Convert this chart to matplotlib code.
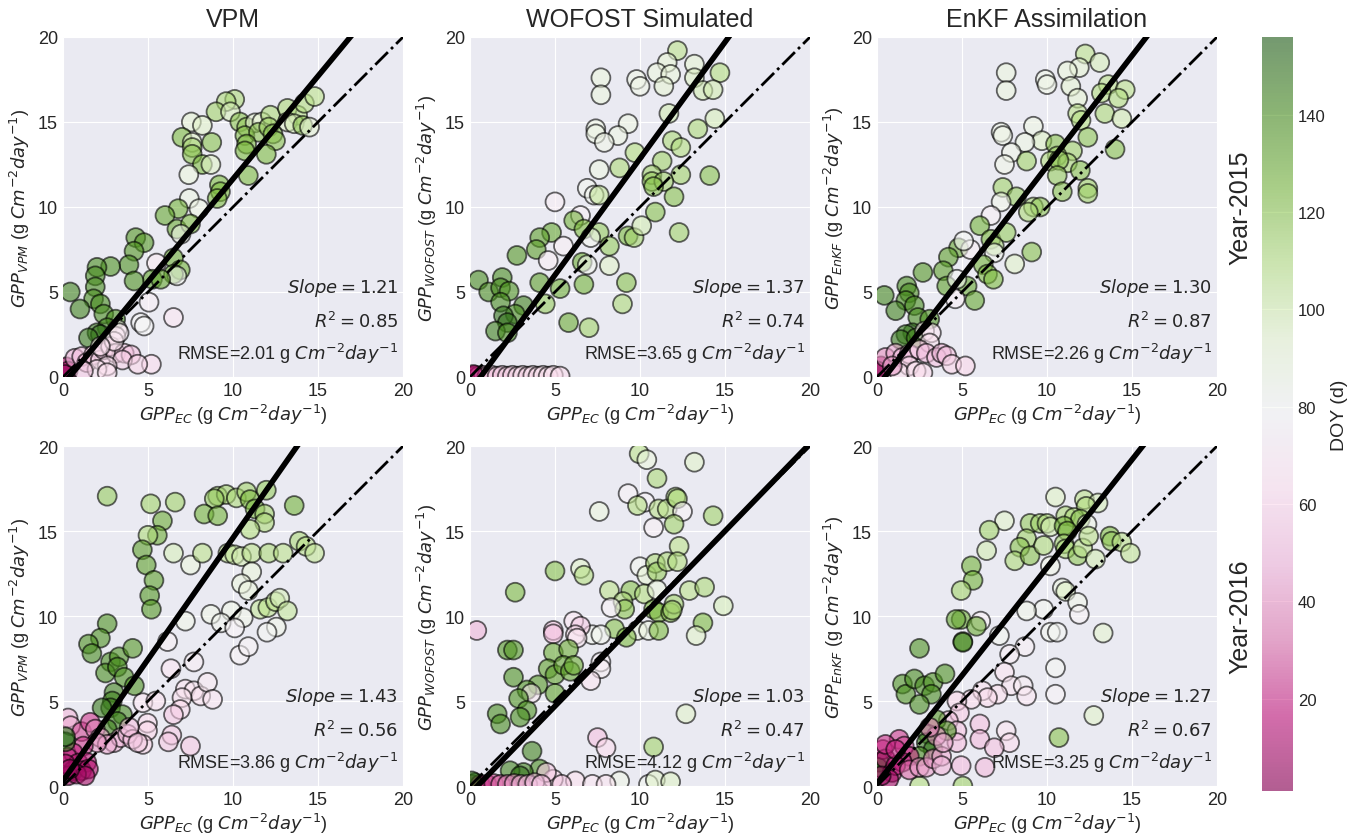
import numpy as np
import matplotlib
matplotlib.use("Agg")
import matplotlib.pyplot as plt

# ---- data (GPP_EC on x, model GPP on y, colour = DOY) ----
vpm15_x = [10.1, 9.6, 9.0, 9.85, 7.55, 8.2, 7.0, 7.6, 7.6, 7.6,
           8.75, 8.2, 8.7, 7.4, 9.2, 9.26, 9.07, 7.43, 8.0, 6.78,
           6.0, 6.7, 7.5, 6.94, 6.5, 6.9, 6.5, 6.7, 5.5, 5.26,
           5.75, 5.06, 4.57, 4.77, 6.5, 4.28, 4.77, 4.18, 3.88, 4.18,
           2.8, 2.0, 1.9, 1.9, 0.43, 1.8, 2.2, 1.0, 2.4, 3.1,
           2.6, 2.0, 2.2, 1.5, 3.2, 3.1,
           10.4, 10.8, 11.3, 11.7, 12.2, 10.7, 11.5, 12.1, 12.35, 12.5,
           10.8, 10.7, 11.96, 10.9, 13.2, 13.8, 13.2, 13.6, 14.2, 14.8,
           14.1, 14.5,
           0.2, 0.3, 0.1, 0.7, 1.1, 1.4, 1.8, 2.2, 2.4, 2.8,
           3.1, 3.6, 4.0, 3.5, 5.2, 4.4, 2.6, 2.0, 2.6, 1.2,
           3.0, 3.3, 2.2]
vpm15_y = [16.33, 16.2, 15.6, 15.6, 15.0, 14.8, 14.1, 13.8, 13.5, 13.1,
           13.8, 12.5, 12.5, 11.9, 11.3, 10.9, 10.5, 10.5, 9.9, 9.9,
           9.5, 8.7, 9.0, 8.4, 7.0, 6.3, 6.05, 5.95, 6.7, 5.75,
           5.75, 4.4, 3.2, 3.0, 3.5, 8.2, 7.9, 7.4, 6.6, 5.65,
           6.5, 6.45, 5.95, 5.3, 5.0, 4.6, 4.3, 4.0, 3.7, 3.4,
           2.9, 2.6, 2.5, 2.3, 2.8, 2.4,
           15.0, 14.7, 14.95, 15.0, 15.4, 14.2, 14.4, 14.7, 14.3, 13.9,
           13.7, 13.3, 13.1, 11.85, 15.8, 15.4, 15.0, 14.9, 16.1, 16.5,
           14.8, 14.7,
           0.6, 0.35, 0.15, 1.1, 1.2, 0.85, 1.3, 1.0, 1.6, 1.8,
           1.4, 1.4, 1.3, 1.0, 0.75, 0.75, 0.65, 0.45, 0.25, 0.35,
           2.1, 2.6, 1.8]
vpm15_doy = [112, 112, 115, 98, 92, 95, 125, 95, 115, 122,
             122, 125, 95, 88, 125, 125, 125, 86, 86, 128,
             132, 130, 125, 85, 130, 128, 130, 82, 70, 135,
             132, 72, 78, 78, 68, 138, 138, 138, 140, 140,
             140, 142, 142, 142, 145, 142, 142, 145, 142, 140,
             143, 148, 150, 148, 72, 68,
             122, 118, 92, 92, 112, 122, 122, 115, 122, 122,
             125, 125, 125, 125, 112, 110, 95, 100, 110, 108,
             120, 92,
             10, 8, 5, 48, 52, 50, 55, 58, 56, 60,
             58, 55, 52, 58, 62, 60, 64, 66, 64, 56,
             68, 70, 66]

wof15_x = [12.2, 11.6, 11.0, 11.8, 13.2, 14.7, 13.2, 7.7, 7.7, 9.8,
           10.0, 11.4, 13.7, 14.3, 11.7, 14.4, 13.4, 9.3, 7.4, 7.4,
           8.7, 7.9, 11.9, 12.4, 9.7, 11.3, 8.8, 7.6, 10.7, 12.4,
           10.7, 11.4, 14.1, 6.9, 7.3, 7.6, 10.8, 12.0, 5.0, 6.5,
           6.1, 6.7, 7.6, 7.1, 4.8, 4.1, 3.9, 5.5, 4.6, 2.76,
           8.2, 9.3, 9.65, 10.1, 10.9, 12.3, 6.6, 6.9, 8.2, 6.7,
           9.2, 8.97, 5.3, 4.1, 4.43, 1.9, 0.5, 1.1, 1.8, 2.3,
           1.8, 3.15, 2.66, 1.97, 2.2, 1.5, 2.2, 5.8, 7.0,
           0.1, 0.3, 0.5, 0.8, 1.0, 1.3, 1.6, 1.9, 2.2, 2.5,
           2.8, 3.1, 3.4, 3.7, 4.0, 4.3, 4.6, 4.9, 5.3, 0.2]
wof15_y = [19.2, 18.5, 17.9, 17.8, 18.4, 17.9, 17.6, 17.6, 16.6, 17.5,
           17.1, 17.1, 16.85, 16.9, 15.5, 15.2, 14.6, 14.9, 14.6, 14.3,
           14.2, 13.8, 13.9, 13.5, 13.2, 12.7, 12.3, 12.2, 11.9, 11.9,
           11.5, 11.5, 11.85, 11.1, 10.7, 10.7, 11.2, 10.6, 10.3, 9.5,
           9.2, 8.7, 8.5, 8.2, 8.5, 8.2, 7.5, 7.7, 6.85, 7.15,
           7.7, 8.3, 8.2, 8.9, 9.7, 8.5, 6.75, 6.6, 6.55, 5.45,
           5.55, 4.3, 5.2, 5.55, 4.3, 5.85, 5.7, 5.0, 5.25, 5.05,
           4.4, 4.2, 3.7, 3.6, 3.2, 2.7, 2.6, 3.2, 2.9,
           0.05, 0.1, 0.05, 0.1, 0.05, 0.1, 0.05, 0.1, 0.05, 0.1,
           0.05, 0.1, 0.05, 0.1, 0.05, 0.1, 0.05, 0.1, 0.05, 0.15]
wof15_doy = [108, 92, 88, 90, 92, 110, 96, 88, 88, 85,
             85, 92, 100, 100, 100, 98, 112, 86, 86, 86,
             86, 84, 112, 110, 110, 115, 112, 86, 115, 115,
             118, 115, 122, 82, 82, 105, 122, 122, 72, 74,
             128, 125, 118, 82, 132, 135, 135, 74, 72, 138,
             118, 125, 115, 100, 122, 115, 130, 82, 95, 128,
             122, 112, 130, 135, 118, 142, 142, 142, 142, 140,
             142, 145, 142, 150, 150, 146, 142, 130, 115,
             10, 20, 35, 45, 50, 55, 58, 55, 60, 58,
             62, 64, 60, 65, 62, 66, 64, 65, 62, 15]

enkf15_x = [12.25, 13.1, 11.9, 11.2, 7.6, 7.6, 9.9, 10.0, 11.4, 11.8,
            13.6, 13.2, 14.6, 14.2, 11.8, 12.0, 13.4, 14.4, 7.3, 7.4,
            9.2, 9.7, 8.7, 7.9, 7.5, 10.5, 12.4, 11.5, 10.6, 10.2,
            11.2, 8.8, 10.7, 14.0, 11.96, 10.6, 12.4, 12.4, 10.9, 7.4,
            8.2, 7.3, 9.2, 9.6, 8.9, 6.7, 6.05, 6.7, 7.6, 6.9,
            6.9, 4.8, 5.5, 5.1, 4.2, 2.7, 3.9, 4.1, 6.25, 6.5,
            6.85, 9.1, 8.1, 5.3, 4.7, 4.6, 5.75, 1.75, 0.43, 1.9,
            1.7, 2.2, 1.1, 2.4, 3.1, 2.1, 1.7, 1.4, 2.3, 2.8,
            3.2, 3.1,
            0.24, 0.05, 0.5, 1.1, 1.5, 1.9, 2.5, 2.9, 3.5, 3.8,
            4.1, 4.4, 5.2, 1.9, 1.3, 2.3, 2.7, 0.9]
enkf15_y = [19.0, 18.5, 18.2, 18.0, 17.9, 16.85, 17.5, 17.2, 17.1, 16.4,
            17.2, 16.7, 16.9, 16.4, 15.5, 15.1, 15.5, 15.2, 14.4, 14.2,
            14.75, 13.9, 13.8, 13.2, 12.5, 13.7, 14.1, 13.3, 13.0, 12.7,
            12.6, 12.7, 12.75, 13.4, 12.15, 11.85, 11.1, 10.8, 10.9, 11.15,
            10.6, 10.3, 10.0, 10.0, 9.7, 9.5, 8.9, 8.1, 8.5, 7.7,
            7.3, 7.6, 7.5, 8.0, 7.05, 6.15, 6.25, 5.35, 6.6, 6.05,
            5.75, 7.35, 6.65, 5.35, 5.75, 4.6, 4.5, 5.35, 4.8, 4.95,
            4.5, 4.2, 3.9, 3.5, 3.4, 2.6, 2.5, 2.2, 2.3, 2.7,
            2.6, 2.0,
            0.65, 0.35, 1.15, 1.4, 1.15, 1.35, 1.6, 1.4, 1.15, 1.4,
            1.25, 0.75, 0.65, 0.65, 0.25, 0.35, 0.25, 0.65]
enkf15_doy = [108, 98, 92, 90, 88, 88, 85, 85, 92, 92,
              108, 110, 108, 110, 108, 110, 112, 100, 85, 85,
              86, 96, 86, 84, 84, 122, 120, 115, 115, 110,
              112, 115, 120, 122, 122, 118, 116, 116, 122, 115,
              118, 84, 112, 120, 112, 74, 128, 126, 118, 112,
              82, 132, 74, 80, 135, 138, 135, 135, 128, 125,
              125, 122, 95, 132, 80, 72, 132, 142, 144, 142,
              142, 142, 145, 142, 140, 150, 148, 148, 143, 70,
              68, 65,
              10, 5, 38, 45, 48, 52, 54, 50, 52, 48,
              52, 60, 60, 62, 64, 64, 62, 42]

vpm16_x = [2.6, 5.16, 6.6, 9.1, 9.6, 8.9, 10.2, 10.8, 11.0, 11.96,
           11.3, 11.86, 11.86, 11.0, 13.6, 8.3, 9.1, 5.85, 5.55, 5.0,
           4.67, 4.9, 5.35, 5.1, 5.2, 6.5, 7.5, 8.2, 9.7, 10.1,
           10.5, 11.1, 12.1, 12.95, 13.9, 14.3, 14.8, 11.1, 10.5, 10.9,
           8.7, 9.9, 10.6, 9.3, 10.1, 11.6, 12.05, 12.5, 12.75, 13.2,
           12.55, 12.0, 10.4, 10.9, 7.2, 6.15, 6.35, 7.7, 7.2, 7.7,
           8.1, 8.5, 8.8, 7.0, 6.9, 6.5, 4.7, 5.46, 4.97, 4.97,
           4.7, 6.4, 6.2, 7.5,
           2.6, 2.2, 1.5, 1.7, 2.8, 3.3, 2.5, 3.2, 3.6, 4.1,
           4.2, 3.0, 2.9, 2.8, 3.5, 3.2, 2.6, 2.3,
           0.3, 0.45, 1.1, 1.6, 1.9, 2.2, 3.0, 3.4, 3.8, 4.1,
           3.9, 4.4, 2.6, 2.0, 1.2, 0.6, 0.25, 0.9, 1.4, 0.6,
           1.1, 1.5, 0.3, 0.15, 0.15, 0.15, 0.8, 1.3, 0.4]
vpm16_y = [17.05, 16.6, 16.7, 17.05, 17.15, 16.9, 16.95, 17.3, 16.85, 17.4,
           16.3, 16.0, 15.5, 15.1, 16.5, 16.0, 15.9, 15.6, 14.75, 14.75,
           13.9, 13.0, 12.1, 11.2, 10.4, 13.7, 13.0, 13.7, 13.7, 13.6,
           13.5, 13.7, 13.7, 13.7, 14.4, 14.1, 13.7, 12.6, 11.9, 11.5,
           10.1, 10.3, 9.9, 9.6, 9.3, 10.4, 10.5, 10.85, 11.05, 10.3,
           9.35, 9.05, 7.7, 8.2, 9.7, 8.5, 6.9, 7.3, 5.7, 5.6,
           5.3, 6.1, 5.1, 5.2, 4.5, 4.2, 4.9, 5.0, 3.7, 3.25,
           2.45, 3.0, 2.6, 2.35,
           9.55, 8.7, 8.35, 7.8, 7.3, 7.6, 6.65, 7.0, 6.4, 8.1,
           5.9, 5.5, 5.0, 4.6, 4.2, 3.8, 3.35, 4.6,
           4.0, 3.55, 3.2, 3.75, 3.35, 2.85, 2.55, 2.85, 3.05, 2.75,
           3.45, 2.55, 2.45, 2.55, 2.35, 1.95, 1.7, 1.35, 1.4, 0.9,
           0.9, 1.0, 0.6, 1.3, 2.6, 2.9, 0.7, 0.6, 1.0]
vpm16_doy = [118, 115, 115, 115, 115, 118, 112, 115, 125, 118,
             125, 115, 112, 110, 128, 128, 128, 130, 130, 112,
             135, 135, 135, 138, 138, 98, 88, 108, 108, 105,
             100, 108, 112, 108, 112, 108, 106, 90, 88, 88,
             85, 85, 84, 82, 76, 105, 108, 108, 98, 105,
             84, 80, 76, 76, 84, 74, 68, 72, 66, 68,
             65, 70, 68, 65, 62, 55, 68, 65, 62, 60,
             60, 55, 55, 55,
             140, 140, 140, 142, 142, 140, 142, 142, 140, 138,
             140, 145, 145, 145, 143, 145, 145, 148,
             48, 45, 25, 22, 35, 45, 48, 50, 50, 52,
             52, 55, 45, 40, 22, 18, 15, 12, 15, 10,
             8, 12, 5, 10, 150, 152, 6, 9, 8]

wof16_x = [9.95, 10.4, 13.2, 11.0, 9.3, 10.3, 9.85, 7.6, 11.1, 11.6,
           12.1, 12.2, 12.5, 14.3, 12.0, 10.8, 12.3, 5.0, 6.5, 6.7,
           2.66, 10.0, 10.4, 10.9, 11.0, 11.6, 12.2, 8.2, 9.45, 10.25,
           11.0, 12.9, 13.8, 14.9, 9.0, 9.1, 8.3, 10.8, 11.1, 11.8,
           12.0, 11.9, 13.7, 13.3, 9.85, 10.5, 11.1, 8.5, 9.2, 7.2,
           7.7, 6.1, 6.5, 6.2, 6.3, 4.9, 4.9, 0.4, 2.2, 2.56,
           4.9, 5.8, 7.7, 7.7, 7.1, 4.6, 5.0, 5.5, 5.9, 6.1,
           2.56, 4.0, 3.35, 3.6, 5.0, 2.86, 3.35, 2.95, 1.6, 1.8,
           12.7, 7.5, 8.0, 10.8, 3.65, 4.1, 3.15, 2.36, 2.95,
           8.8, 10.5, 10.9, 11.8, 6.2, 7.2, 4.9, 4.5, 5.4, 0.1,
           0.3, 0.6, 1.0, 1.4, 1.8, 2.2, 2.6, 3.0, 3.4, 3.8,
           4.2, 8.0, 0.1]
wof16_y = [19.55, 19.2, 19.05, 18.1, 17.2, 16.7, 16.5, 16.15, 16.3, 16.3,
           17.0, 16.9, 16.15, 15.9, 15.4, 15.2, 14.1, 12.65, 12.8, 12.4,
           11.4, 12.9, 12.4, 13.1, 12.6, 13.2, 13.2, 11.5, 11.5, 11.3,
           11.55, 11.5, 11.7, 10.6, 10.85, 10.4, 10.5, 10.4, 10.2, 10.2,
           10.7, 10.35, 9.6, 8.85, 9.15, 9.15, 9.15, 9.25, 8.75, 8.9,
           8.9, 9.7, 9.4, 8.9, 8.7, 9.15, 8.95, 9.15, 8.0, 8.0,
           7.85, 8.05, 7.3, 6.9, 6.2, 6.9, 6.55, 7.1, 6.75, 7.1,
           6.4, 5.95, 5.65, 5.45, 5.45, 5.15, 4.45, 4.05, 4.25, 3.65,
           4.25, 2.85, 2.25, 2.3, 2.05, 1.0, 0.8, 0.9, 0.6,
           0.3, 0.1, 0.35, 0.25, 0.3, 0.1, 0.4, 0.8, 0.1, 0.1,
           0.2, 0.1, 0.1, 0.15, 0.1, 0.1, 0.15, 0.1, 0.1, 0.2,
           0.1, 0.1, 0.3]
wof16_doy = [108, 88, 95, 112, 76, 76, 110, 88, 108, 108,
             110, 112, 76, 115, 115, 74, 108, 122, 95, 110,
             125, 82, 92, 112, 118, 112, 110, 108, 122, 110,
             88, 108, 112, 98, 112, 122, 76, 125, 125, 122,
             115, 115, 125, 95, 88, 86, 125, 122, 125, 82,
             82, 68, 56, 64, 68, 55, 52, 48, 138, 138,
             130, 130, 74, 74, 66, 135, 135, 132, 132, 130,
             140, 138, 140, 70, 135, 140, 140, 142, 142, 142,
             95, 52, 62, 115, 145, 142, 145, 145, 150,
             85, 82, 95, 96, 64, 68, 60, 55, 55, 10,
             150, 15, 20, 25, 30, 35, 40, 45, 48, 50,
             52, 66, 150]

enkf16_x = [10.5, 12.2, 13.0, 12.3, 7.5, 6.6, 9.0, 9.6, 10.0, 10.2,
            11.1, 11.6, 11.96, 11.0, 11.2, 12.35, 8.8, 8.4, 8.1, 9.0,
            9.8, 11.0, 11.1, 11.8, 12.1, 12.45, 12.85, 13.7, 13.8, 14.4,
            14.9, 6.45, 5.55, 5.65, 4.95, 10.2, 10.9, 11.1, 11.8, 11.9,
            13.3, 9.8, 8.8, 10.2, 10.6, 6.1, 7.2, 8.7, 7.8, 10.5,
            10.5, 7.5, 7.9, 8.6, 8.8, 7.1, 6.2, 6.5, 5.55, 4.7,
            4.85, 4.2, 4.7, 4.7, 6.05, 6.05, 7.6, 7.8, 6.9, 6.35,
            4.95, 5.05, 2.5, 12.75, 10.7,
            4.95, 4.65, 5.85, 5.05, 5.05, 2.5, 1.5, 1.7, 2.2, 2.8,
            3.3, 3.2, 4.0, 2.5, 3.5, 4.1, 3.0, 2.9, 3.3, 2.5,
            0.15, 0.05,
            0.35, 0.5, 0.9, 1.3, 1.6, 1.9, 1.5, 1.1, 0.7, 0.25,
            1.9, 2.5, 2.9, 3.3, 3.8, 3.8, 3.5, 3.9, 0.5, 1.1,
            3.1]
enkf16_y = [17.0, 16.85, 16.65, 16.45, 15.6, 15.05, 15.45, 15.45, 15.45, 15.25,
            15.9, 15.8, 15.7, 15.3, 15.0, 15.4, 14.55, 14.05, 13.25, 13.55,
            14.15, 14.25, 13.95, 13.55, 14.0, 14.7, 13.35, 14.7, 14.4, 14.35,
            13.7, 13.85, 12.95, 12.1, 11.5, 12.95, 11.65, 11.45, 10.8, 10.1,
            9.0, 10.4, 10.3, 9.05, 9.05, 9.7, 8.85, 8.2, 7.75, 6.95,
            5.4, 6.7, 5.9, 5.9, 5.3, 5.4, 5.6, 5.2, 5.1, 5.0,
            4.3, 3.85, 3.25, 2.55, 3.65, 2.75, 3.25, 2.55, 2.25, 1.1,
            1.2, 0.0, 0.0, 4.15, 2.85,
            9.8, 9.8, 9.4, 8.5, 8.45, 8.1, 6.0, 5.4, 6.3, 5.9,
            6.1, 5.4, 6.6, 4.8, 3.9, 3.25, 3.05, 2.55, 2.15, 1.75,
            1.4, 1.1,
            2.15, 1.6, 0.8, 2.75, 2.35, 1.75, 1.4, 1.2, 0.4, 0.6,
            0.95, 1.1, 1.1, 1.6, 1.75, 1.2, 2.95, 2.55, 2.45, 2.15,
            3.45]
enkf16_doy = [96, 108, 98, 110, 95, 115, 118, 115, 112, 100,
              112, 112, 122, 128, 125, 85, 115, 122, 112, 122,
              112, 115, 112, 120, 108, 108, 100, 125, 118, 108,
              106, 100, 128, 128, 115, 84, 86, 96, 84, 76,
              94, 82, 84, 82, 80, 74, 82, 74, 72, 80,
              76, 66, 68, 72, 68, 64, 65, 62, 62, 60,
              55, 52, 52, 50, 52, 50, 66, 62, 52, 50,
              50, 115, 110, 95, 122,
              130, 132, 130, 132, 145, 140, 140, 140, 142, 142,
              140, 142, 140, 142, 138, 140, 148, 148, 150, 142,
              150, 150,
              15, 12, 10, 22, 25, 20, 18, 15, 8, 5,
              30, 40, 42, 38, 45, 48, 40, 45, 20, 18,
              35]

# fit statistics printed in each panel
slopes = [1.21, 1.37, 1.30, 1.43, 1.03, 1.27]
intercepts = [-0.45, -0.85, -0.6, 0.3, -0.45, 0.15]
r2 = [0.85, 0.74, 0.87, 0.56, 0.47, 0.67]
rmse = [2.01, 3.65, 2.26, 3.86, 4.12, 3.25]

models = ["VPM", "WOFOST", "EnKF"]
titles = ["VPM", "WOFOST Simulated", "EnKF Assimilation"]
years = ["Year-2015", "Year-2016"]

panels = [(vpm15_x, vpm15_y, vpm15_doy), (wof15_x, wof15_y, wof15_doy),
          (enkf15_x, enkf15_y, enkf15_doy), (vpm16_x, vpm16_y, vpm16_doy),
          (wof16_x, wof16_y, wof16_doy), (enkf16_x, enkf16_y, enkf16_doy)]

plt.style.use("seaborn-v0_8-darkgrid")
plt.rcParams["font.family"] = ["Liberation Sans", "DejaVu Sans"]
plt.rcParams["mathtext.fontset"] = "dejavusans"

fig = plt.figure(figsize=(13.69, 8.37), dpi=100)

lefts = [0.046, 0.3433, 0.6406]
bottoms = [0.5484, 0.0597]
w, h = 0.2484, 0.4062

unit = " (g $Cm^{-2}day^{-1}$)"
sc = None
for i in range(6):
    row, col = i // 3, i % 3
    ax = fig.add_axes([lefts[col], bottoms[row], w, h])
    x, y, doy = panels[i]
    sc = ax.scatter(x, y, c=doy, cmap="PiYG", vmin=1, vmax=156, s=185,
                    alpha=0.6, edgecolors="k", linewidths=1.3, zorder=2)
    xs = np.array([0.0, 20.0])
    ax.plot(xs, slopes[i] * xs + intercepts[i], color="k", lw=4, zorder=3)
    ax.plot(xs, xs, color="k", ls="-.", lw=2, zorder=3)
    ax.set_xlim(0, 20)
    ax.set_ylim(0, 20)
    ax.set_xticks([0, 5, 10, 15, 20])
    ax.set_yticks([0, 5, 10, 15, 20])
    ax.tick_params(labelsize=13)
    ax.set_xlabel("$GPP_{EC}$" + unit, fontsize=13, labelpad=2)
    ax.set_ylabel("$GPP_{%s}$" % models[col] + unit, fontsize=13, labelpad=4)
    ax.text(0.985, 0.265, "$Slope = %.2f$" % slopes[i], transform=ax.transAxes,
            ha="right", va="center", fontsize=13)
    ax.text(0.985, 0.165, "$R^2 = %.2f$" % r2[i], transform=ax.transAxes,
            ha="right", va="center", fontsize=13)
    ax.text(0.985, 0.07, "RMSE=%.2f g $Cm^{-2}day^{-1}$" % rmse[i],
            transform=ax.transAxes, ha="right", va="center", fontsize=13)
    if row == 0:
        ax.set_title(titles[col], fontsize=18, pad=8)
    if col == 2:
        ax.text(1.068, 0.5, years[row], transform=ax.transAxes, rotation=90,
                ha="center", va="center", fontsize=18)

cax = fig.add_axes([0.9218, 0.0538, 0.0226, 0.9008])
cb = fig.colorbar(sc, cax=cax)
cb.set_ticks([20, 40, 60, 80, 100, 120, 140])
cb.ax.tick_params(labelsize=12)
cb.set_label("DOY (d)", fontsize=14)
cb.outline.set_visible(False)

fig.savefig("out.png", dpi=100)
